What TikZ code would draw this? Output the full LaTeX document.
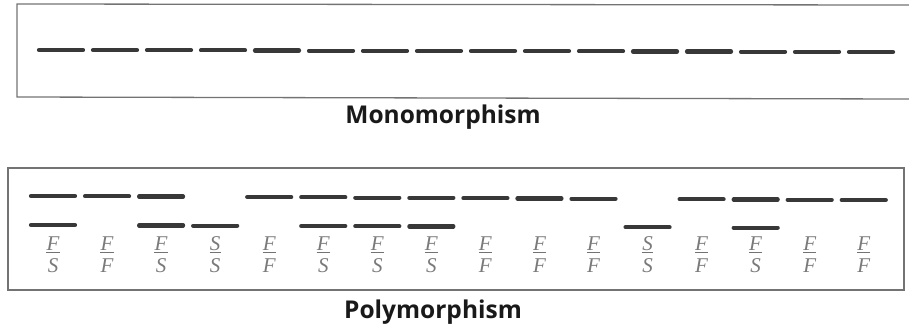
\documentclass[tikz,border=0pt]{standalone}
\usepackage{fontspec}
\setmainfont{Liberation Serif}
\newfontfamily\headfont{Open Sans}
\begin{document}
\begin{tikzpicture}[x=1pt,y=-1pt,
  frame/.style={draw=black!55,line width=1.3pt},
  band/.style={draw=black!78,line width=4.2pt,line cap=round},
  title/.style={font=\headfont\bfseries\fontsize{24.5}{28}\selectfont,text=black!90},
  allele/.style={text=black!52,font=\itshape\fontsize{21}{21}\selectfont,inner sep=0pt}]
\useasboundingbox (0,0) rectangle (909,327);
% Monomorphism panel: open on the right
\draw[frame] (909,5) -- (17,4) -- (17,97) -- (909,99);
\foreach \i in {0,...,15}{
  \pgfmathsetmacro\cx{61+54*\i}
  \pgfmathsetmacro\cy{50+0.13*\i}
  \draw[band] (\cx-22,\cy) -- (\cx+22,\cy);
}
\node[title] (mono) at (443,117) {Monomorphism};
% Polymorphism panel
\draw[frame] (8,168) rectangle (904,290);
% genotype of each lane: 1 = F/F, 2 = F/S, 3 = S/S
\foreach \g [count=\i from 0] in {2,1,2,3,1,2,2,2,1,1,1,3,1,2,1,1}{
  \pgfmathsetmacro\cx{53+54.05*\i}
  \pgfmathsetmacro\uy{196+0.27*\i}
  \pgfmathsetmacro\ly{225+0.2*\i}
  \ifnum\g<3 \draw[band] (\cx-22,\uy) -- (\cx+22,\uy); \fi
  \ifnum\g>1 \draw[band] (\cx-22,\ly) -- (\cx+22,\ly); \fi
  \ifnum\g<3
    \node[allele,anchor=base] (up\i) at (\cx,250) {F};
  \else
    \node[allele,anchor=base] (up\i) at (\cx,250) {S};
  \fi
  \ifnum\g=1
    \node[allele,anchor=base] (lo\i) at (\cx,272.5) {F};
  \else
    \node[allele,anchor=base] (lo\i) at (\cx,272.5) {S};
  \fi
  % bar between the two alleles
  \draw[black!55,line width=1pt] ([yshift=-2pt]up\i.base west) -- ([yshift=-2pt]up\i.base east);
}
\node[title] (poly) at (433,312) {Polymorphism};
\end{tikzpicture}
\end{document}
